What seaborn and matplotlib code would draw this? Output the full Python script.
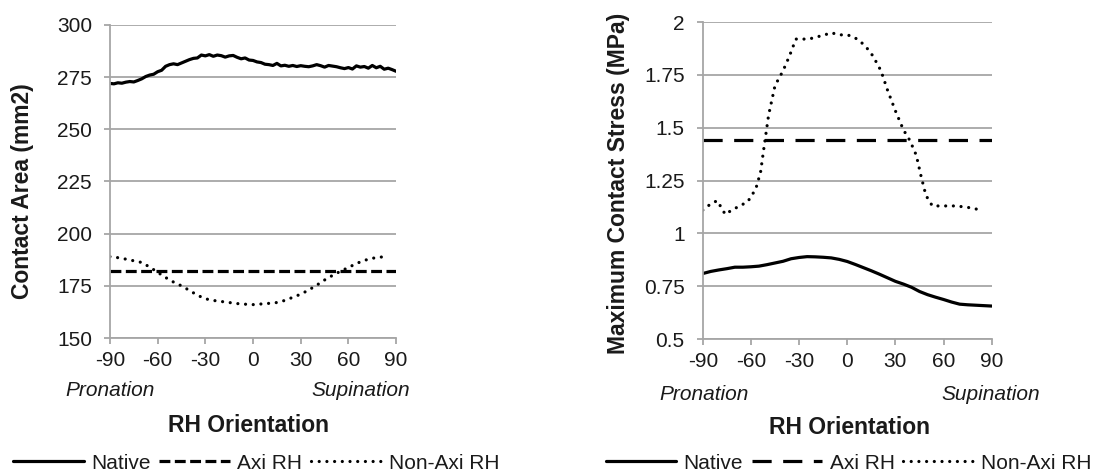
import numpy as np
import pandas as pd
import matplotlib
matplotlib.use("Agg")
import matplotlib.pyplot as plt
import seaborn as sns

# ---------------- data ----------------
ang_native_area = [-90 + 2.5 * i for i in range(73)]
native_area = [272.0, 271.8, 272.3, 272.1, 272.6, 272.9, 272.7, 273.4, 274.2, 275.3,
               276.0, 276.4, 277.6, 278.3, 280.2, 281.0, 281.4, 281.0, 281.8, 282.6,
               283.4, 284.0, 284.2, 285.6, 285.2, 285.8, 285.0, 285.6, 285.3, 284.6,
               285.2, 285.4, 284.5, 283.8, 284.2, 283.2, 283.0, 282.3, 282.0, 281.2,
               281.0, 280.6, 281.6, 280.4, 280.7, 280.2, 280.6, 280.1, 280.5, 280.2,
               280.0, 280.4, 281.0, 280.5, 279.8, 280.6, 280.3, 280.0, 279.5, 279.1,
               279.6, 278.9, 280.4, 279.8, 280.1, 279.3, 280.6, 279.5, 280.2, 278.8,
               279.3, 278.6, 277.8]

ang_axi = [-90, 90]
axi_area = [182.0, 182.0]

ang_nonaxi_area = [-90, -85, -80, -75, -70, -65, -60, -55, -50, -45, -40, -35, -30, -25,
                   -20, -15, -10, -5, 0, 5, 10, 15, 20, 25, 30, 35, 40, 45, 50, 55, 60,
                   65, 70, 75, 80, 85]
nonaxi_area = [189.0, 188.5, 187.8, 187.0, 186.2, 184.0, 181.5, 179.0, 176.8, 175.0,
               172.8, 170.5, 168.8, 168.0, 167.5, 167.0, 166.5, 166.2, 166.0, 166.3,
               166.6, 167.0, 168.0, 169.5, 171.0, 173.0, 175.3, 177.8, 180.0, 182.0,
               183.8, 185.7, 187.2, 188.2, 188.8, 188.8]

ang_native_stress = [-90 + 5 * i for i in range(37)]
native_stress = [0.810, 0.820, 0.827, 0.833, 0.840, 0.840, 0.842, 0.845, 0.852, 0.860,
                 0.868, 0.880, 0.886, 0.890, 0.889, 0.887, 0.884, 0.877, 0.867, 0.853,
                 0.838, 0.823, 0.807, 0.790, 0.773, 0.760, 0.745, 0.725, 0.710, 0.698,
                 0.687, 0.675, 0.665, 0.662, 0.660, 0.658, 0.656]

axi_stress = [1.44, 1.44]

ang_nonaxi_stress = [-90, -85, -81, -76, -72, -67, -62, -57, -54, -52, -49, -45, -40, -36,
                     -32, -28, -24, -19, -14, -10, -5, 0, 4, 8, 12, 16, 21, 25, 30, 35,
                     39, 43, 46, 49, 53, 58, 63, 68, 73, 78, 83]
nonaxi_stress = [1.11, 1.14, 1.155, 1.09, 1.11, 1.13, 1.15, 1.21, 1.29, 1.40, 1.56, 1.70,
                 1.77, 1.84, 1.92, 1.92, 1.92, 1.93, 1.94, 1.95, 1.94, 1.94, 1.93, 1.91,
                 1.88, 1.84, 1.77, 1.68, 1.58, 1.49, 1.44, 1.37, 1.27, 1.18, 1.13, 1.13,
                 1.13, 1.13, 1.125, 1.12, 1.11]

x_ticks = [-90, -60, -30, 0, 30, 60, 90]
area_ticks = [150, 175, 200, 225, 250, 275, 300]
stress_ticks = [0.5, 0.75, 1.0, 1.25, 1.5, 1.75, 2.0]
stress_ticklabels = ["0.5", "0.75", "1", "1.25", "1.5", "1.75", "2"]
series_names = ["Native", "Axi RH", "Non-Axi RH"]

# ---------------- style ----------------
sns.set_style("white")
plt.rcParams['font.family'] = ['Liberation Sans', 'DejaVu Sans']

GRID = "#a6a6a6"
TXT = "#1a1a1a"
LW = 2.3
FS = 15
FSB = 16.5

fig = plt.figure(figsize=(11.05, 4.75), dpi=100)
axL = fig.add_axes([0.0995, 0.2884, 0.259, 0.659])
axR = fig.add_axes([0.636, 0.2863, 0.2615, 0.667])

dot_style = (0, (0.01, 2.4))


def draw(ax, nat_x, nat_y, axi_y, non_x, non_y, dash):
    sns.lineplot(x=nat_x, y=nat_y, ax=ax, color="black", lw=LW, label=series_names[0])
    sns.lineplot(x=ang_axi, y=axi_y, ax=ax, color="black", lw=LW, label=series_names[1],
                 linestyle=dash)
    sns.lineplot(x=non_x, y=non_y, ax=ax, color="black", lw=LW,
                 label=series_names[2], linestyle=dot_style)
    for ln in ax.lines:
        ln.set_dash_capstyle('butt')
    ax.lines[-1].set_dash_capstyle('round')


draw(axL, ang_native_area, native_area, axi_area, ang_nonaxi_area, nonaxi_area,
     (0, (3.4, 1.4)))
draw(axR, ang_native_stress, native_stress, axi_stress, ang_nonaxi_stress, nonaxi_stress,
     (0, (6.0, 3.6)))

label_pos = {
    "L": dict(pro=-0.157, sup=1.049, pro_y=-0.169, rh_x=0.483, rh_y=-0.278),
    "R": dict(pro=-0.149, sup=1.166, pro_y=-0.174, rh_x=0.509, rh_y=-0.278),
}

for key, ax, yt, ylim in [("L", axL, area_ticks, (150, 300)),
                          ("R", axR, stress_ticks, (0.5, 2.0))]:
    p = label_pos[key]
    ax.set_xlim(-90, 90)
    ax.set_ylim(*ylim)
    ax.set_xticks(x_ticks)
    ax.set_xticklabels([str(v) for v in x_ticks])
    ax.set_yticks(yt)
    ax.grid(axis='y', color=GRID, lw=1.3)
    ax.grid(axis='x', visible=False)
    ax.set_axisbelow(True)
    for s in ['top', 'right']:
        ax.spines[s].set_visible(False)
    for s in ['left', 'bottom']:
        ax.spines[s].set_color(GRID)
        ax.spines[s].set_linewidth(1.3)
    ax.tick_params(axis='both', which='both', direction='out', length=4, width=1.3,
                   color=GRID, labelcolor=TXT, labelsize=FS)
    ax.tick_params(axis='y', pad=9, left=True)
    ax.tick_params(axis='x', pad=5, bottom=True)
    ax.set_xlabel("")
    ax.set_ylabel("")
    ax.text(p["pro"], p["pro_y"], "Pronation", transform=ax.transAxes, style='italic',
            fontsize=FS, color=TXT, ha='left', va='center')
    ax.text(p["sup"], p["pro_y"], "Supination", transform=ax.transAxes, style='italic',
            fontsize=FS, color=TXT, ha='right', va='center')
    ax.text(p["rh_x"], p["rh_y"], "RH Orientation", transform=ax.transAxes,
            fontweight='bold', fontsize=FSB, color=TXT, ha='center', va='center')
    if ax.get_legend():
        ax.get_legend().remove()

axR.set_yticklabels(stress_ticklabels)
axL.set_yticklabels([str(v) for v in area_ticks])

fig.text(0.0204, 0.598, "Contact Area (mm2)", rotation=90, fontweight='bold',
         fontsize=FSB, color=TXT, ha='center', va='center')
fig.text(0.560, 0.614, "Maximum Contact Stress (MPa)", rotation=90, fontweight='bold',
         fontsize=FSB, color=TXT, ha='center', va='center')

for ax, cx in [(axL, 0.232), (axR, 0.768)]:
    h, l = ax.get_legend_handles_labels()
    fig.legend(h, l, loc='center', bbox_to_anchor=(cx, 0.025), ncol=3, frameon=False,
               fontsize=FS, handlelength=3.4, handletextpad=0.35, columnspacing=0.4,
               labelcolor=TXT, borderpad=0.1)

fig.savefig("out.png", dpi=100)
